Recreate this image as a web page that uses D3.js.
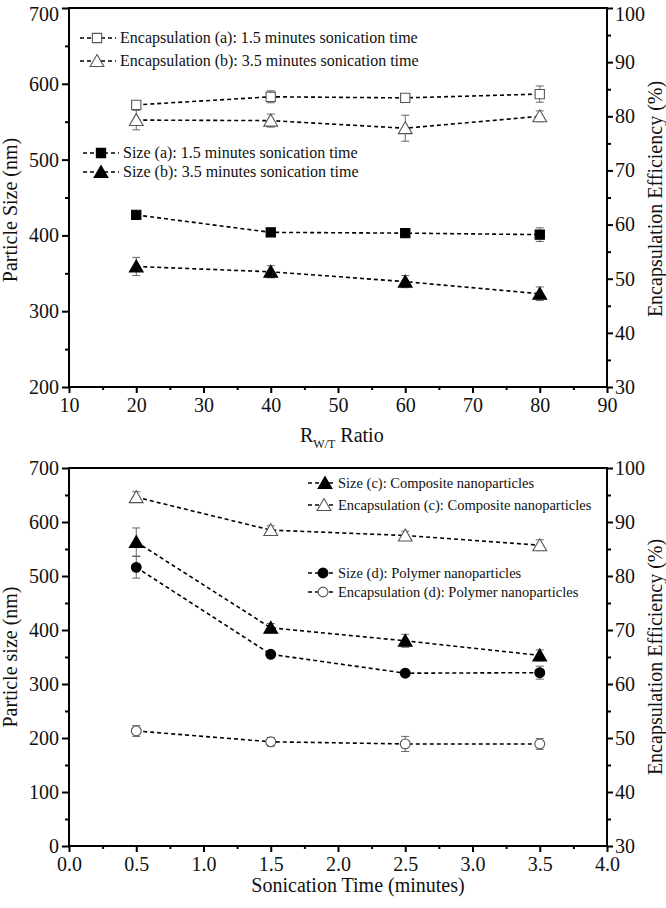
<!DOCTYPE html>
<html>
<head>
<meta charset="utf-8">
<script src="https://cdn.jsdelivr.net/npm/d3@7"></script>
<style>
  body { margin: 0; background: #fff; }
  text { font-family: "Liberation Serif", "Times New Roman", serif; fill: #111; }
</style>
</head>
<body>
<div id="chart"></div>
<script>
// top panel: R_W/T ratio
const rwtRatio = [20, 40, 60, 80];
const encA = [82.1, 83.6, 83.4, 84.1];
const encAErr = [0.6, 1.1, 0.5, 1.5];
const encB = [79.3, 79.2, 77.8, 80.0];
const encBErr = [1.8, 1.2, 2.4, 1.0];
const sizeA = [427, 404, 403, 401];
const sizeAErr = [3, 3, 3, 9];
const sizeB = [359, 352, 339, 323];
const sizeBErr = [12, 8, 8, 9];

// bottom panel: sonication time
const sonTime = [0.5, 1.5, 2.5, 3.5];
const encC = [94.6, 88.5, 87.5, 85.7];
const encCErr = [1.0, 0.8, 0.8, 1.0];
const sizeC = [563, 404, 380, 353];
const sizeCErr = [26, 8, 12, 10];
const sizeD = [516, 355, 320, 321];
const sizeDErr = [20, 5, 6, 12];
const encD = [51.3, 49.3, 48.9, 48.9];
const encDErr = [1.0, 0.8, 1.4, 1.0];

const topXTicks = [10, 20, 30, 40, 50, 60, 70, 80, 90];
const botXTicks = [0, 0.5, 1, 1.5, 2, 2.5, 3, 3.5, 4];

const W = 666, H = 908;
const svg = d3.select("#chart").append("svg")
    .attr("width", W).attr("height", H);

const left = 69, right = 607;

function symbolPath(type, size) {
    return d3.symbol().type(type).size(size)();
}

const shapes = {
    square: { type: d3.symbolSquare, size: 86 },
    triangle: { type: d3.symbolTriangle, size: 82 },
    circle: { type: d3.symbolCircle, size: 76 }
};

function drawMarker(g, x, y, shape, filled) {
    const s = shapes[shape];
    const dy = shape === "triangle" ? 1.5 : 0;
    g.append("path")
        .attr("d", symbolPath(s.type, s.size))
        .attr("transform", `translate(${x},${y + dy})`)
        .attr("fill", filled ? "#000" : "#fff")
        .attr("stroke", filled ? "#000" : "#555")
        .attr("stroke-width", 1.1);
}

function drawSeries(g, x, y, xs, ys, errs, shape, filled) {
    const line = d3.line().x((d, i) => x(xs[i])).y(d => y(d));
    g.append("path")
        .datum(ys)
        .attr("d", line)
        .attr("fill", "none")
        .attr("stroke", "#000")
        .attr("stroke-width", 1.6)
        .attr("stroke-dasharray", "4,3");
    // error bars
    ys.forEach((v, i) => {
        const cx = x(xs[i]);
        const y0 = y(v - errs[i]), y1 = y(v + errs[i]);
        const eb = g.append("g").attr("stroke", "#666").attr("stroke-width", 1);
        eb.append("line").attr("x1", cx).attr("x2", cx).attr("y1", y0).attr("y2", y1);
        eb.append("line").attr("x1", cx - 4).attr("x2", cx + 4).attr("y1", y0).attr("y2", y0);
        eb.append("line").attr("x1", cx - 4).attr("x2", cx + 4).attr("y1", y1).attr("y2", y1);
    });
    ys.forEach((v, i) => drawMarker(g, x(xs[i]), y(v), shape, filled));
}

function legendItem(g, x0, x1, xm, y, shape, filled, label, fontSize) {
    g.append("line")
        .attr("x1", x0).attr("x2", x1).attr("y1", y).attr("y2", y)
        .attr("stroke", "#000").attr("stroke-width", 1.6)
        .attr("stroke-dasharray", "4,3");
    drawMarker(g, xm, y, shape, filled);
    g.append("text")
        .attr("x", x1 + 4).attr("y", y + fontSize * 0.33)
        .attr("font-size", fontSize)
        .text(label);
}

function panel(opts) {
    const g = svg.append("g");
    const x = d3.scaleLinear().domain(opts.xDomain).range([left, right]);
    const yL = d3.scaleLinear().domain(opts.yDomain).range([opts.bottom, opts.top]);
    const yR = d3.scaleLinear().domain([30, 100]).range([opts.bottom, opts.top]);

    // frame
    g.append("rect")
        .attr("x", left).attr("y", opts.top)
        .attr("width", right - left).attr("height", opts.bottom - opts.top)
        .attr("fill", "none").attr("stroke", "#000").attr("stroke-width", 2);

    const styleAxis = (sel) => {
        sel.select(".domain").remove();
        sel.selectAll(".tick line").attr("stroke", "#000").attr("stroke-width", 2);
        sel.selectAll(".tick text")
            .attr("font-family", "Liberation Serif, Times New Roman, serif")
            .attr("font-size", 20).attr("fill", "#111");
    };
    const styleMinor = (sel) => {
        sel.select(".domain").remove();
        sel.selectAll(".tick line").attr("stroke", "#000").attr("stroke-width", 2);
        sel.selectAll(".tick text").remove();
    };
    // keep the topmost label inside the page
    const nudgeTop = (sel, topVal) => {
        sel.selectAll(".tick").filter(d => d === topVal).select("text")
            .attr("dy", opts.top < 20 ? "0.62em" : "0.32em");
    };

    // x axis
    g.append("g").attr("transform", `translate(0,${opts.bottom})`)
        .call(d3.axisBottom(x).tickValues(opts.xTicks).tickSize(6).tickPadding(5)
            .tickFormat(opts.xFormat))
        .call(styleAxis);
    const xMinor = d3.range(0, opts.xTicks.length - 1)
        .map(i => (opts.xTicks[i] + opts.xTicks[i + 1]) / 2);
    g.append("g").attr("transform", `translate(0,${opts.bottom})`)
        .call(d3.axisBottom(x).tickValues(xMinor).tickSize(3))
        .call(styleMinor);

    // left axis
    const yTicks = d3.range(opts.yDomain[0], opts.yDomain[1] + 1, 100);
    g.append("g").attr("transform", `translate(${left},0)`)
        .call(d3.axisLeft(yL).tickValues(yTicks).tickSize(7).tickPadding(3))
        .call(styleAxis)
        .call(nudgeTop, opts.yDomain[1]);
    g.append("g").attr("transform", `translate(${left},0)`)
        .call(d3.axisLeft(yL).tickValues(yTicks.slice(0, -1).map(v => v + 50)).tickSize(4))
        .call(styleMinor);

    // right axis
    const rTicks = d3.range(30, 101, 10);
    g.append("g").attr("transform", `translate(${right},0)`)
        .call(d3.axisRight(yR).tickValues(rTicks).tickSize(6).tickPadding(2))
        .call(styleAxis)
        .call(nudgeTop, 100);
    g.append("g").attr("transform", `translate(${right},0)`)
        .call(d3.axisRight(yR).tickValues(rTicks.slice(0, -1).map(v => v + 5)).tickSize(4))
        .call(styleMinor);

    // axis titles
    g.append("text")
        .attr("transform", `translate(${opts.leftTitleX},${opts.leftTitleY}) rotate(-90)`)
        .attr("text-anchor", "middle").attr("font-size", 20)
        .text(opts.leftTitle);
    g.append("text")
        .attr("transform", `translate(662,${opts.rightTitleY}) rotate(-90)`)
        .attr("text-anchor", "middle").attr("font-size", 20)
        .text("Encapsulation Efficiency (%)");

    return { g, x, yL, yR };
}

// ---- top panel ----
const p1 = panel({
    top: 8, bottom: 387, xDomain: [10, 90], yDomain: [200, 700],
    xTicks: topXTicks, xFormat: d3.format("d"),
    leftTitle: "Particle Size (nm)", leftTitleX: 17, leftTitleY: 210, rightTitleY: 199
});
drawSeries(p1.g, p1.x, p1.yR, rwtRatio, encA, encAErr, "square", false);
drawSeries(p1.g, p1.x, p1.yR, rwtRatio, encB, encBErr, "triangle", false);
drawSeries(p1.g, p1.x, p1.yL, rwtRatio, sizeA, sizeAErr, "square", true);
drawSeries(p1.g, p1.x, p1.yL, rwtRatio, sizeB, sizeBErr, "triangle", true);

legendItem(p1.g, 80, 116, 97, 38, "square", false, "Encapsulation (a): 1.5 minutes sonication time", 16);
legendItem(p1.g, 80, 116, 97, 61, "triangle", false, "Encapsulation (b): 3.5 minutes sonication time", 16);
legendItem(p1.g, 83, 119, 101, 153, "square", true, "Size (a): 1.5 minutes sonication time", 16);
legendItem(p1.g, 83, 119, 101, 172, "triangle", true, "Size (b): 3.5 minutes sonication time", 16);

const t1 = p1.g.append("text").attr("x", 300).attr("y", 442).attr("font-size", 20);
t1.append("tspan").text("R");
t1.append("tspan").attr("font-size", 12).attr("dy", 6).text("W/T");
t1.append("tspan").attr("dy", -6).text(" Ratio");

// ---- bottom panel ----
const p2 = panel({
    top: 468, bottom: 846, xDomain: [0, 4], yDomain: [0, 700],
    xTicks: botXTicks, xFormat: d3.format(".1f"),
    leftTitle: "Particle size (nm)", leftTitleX: 17, leftTitleY: 657, rightTitleY: 657
});
drawSeries(p2.g, p2.x, p2.yR, sonTime, encC, encCErr, "triangle", false);
drawSeries(p2.g, p2.x, p2.yL, sonTime, sizeC, sizeCErr, "triangle", true);
drawSeries(p2.g, p2.x, p2.yL, sonTime, sizeD, sizeDErr, "circle", true);
drawSeries(p2.g, p2.x, p2.yR, sonTime, encD, encDErr, "circle", false);

legendItem(p2.g, 308, 334, 325, 483, "triangle", true, "Size (c): Composite nanoparticles", 14.5);
legendItem(p2.g, 308, 334, 324, 505, "triangle", false, "Encapsulation (c): Composite nanoparticles", 14.5);
legendItem(p2.g, 308, 334, 323, 573, "circle", true, "Size (d): Polymer nanoparticles", 14.5);
legendItem(p2.g, 308, 334, 323, 592, "circle", false, "Encapsulation (d): Polymer nanoparticles", 14.5);

p2.g.append("text").attr("x", 358).attr("y", 892)
    .attr("text-anchor", "middle").attr("font-size", 20)
    .text("Sonication Time (minutes)");
</script>
</body>
</html>
